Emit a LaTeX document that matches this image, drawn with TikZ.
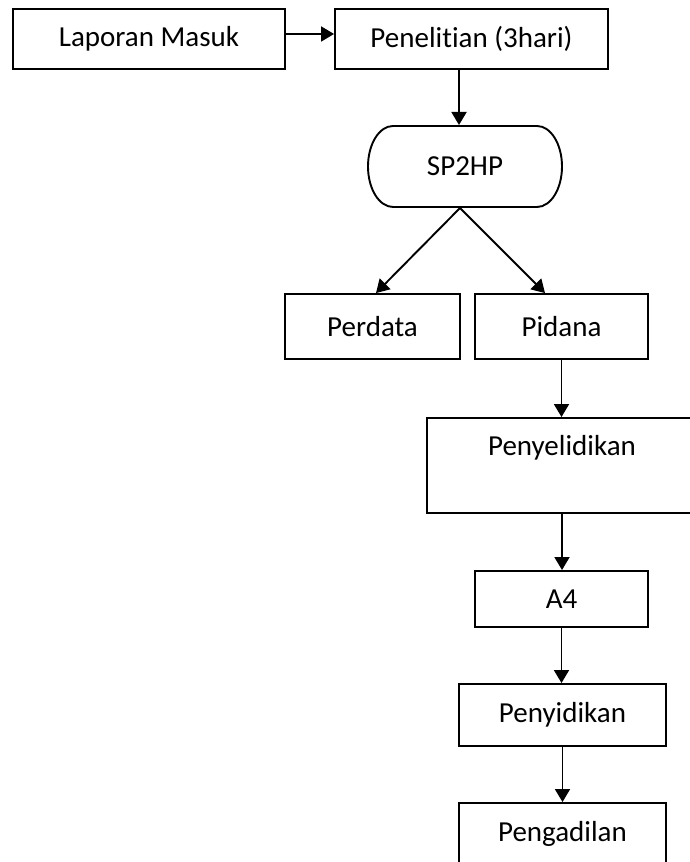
\documentclass[tikz,border=0pt]{standalone}
\usepackage{fontspec}
\setmainfont{Carlito}[Ligatures={NoCommon,NoContextual},RawFeature={-liga;-clig;-dlig}]
\usetikzlibrary{arrows.meta}
\begin{document}
\begin{tikzpicture}[x=1pt,y=1pt,
  box/.style={draw=black, line width=1.9pt, rectangle, inner sep=0pt, font=\fontsize{29}{35}\selectfont},
  conn/.style={line width=1.9pt, -{Triangle[length=13pt,width=15pt]}},
  outline/.style={line width=1.9pt, line join=round},
]
\useasboundingbox (0,0) rectangle (690,862);
\clip (0,0) rectangle (690,862);
\node[box, minimum width=272pt, minimum height=60pt] (lap) at (149,823) {Laporan Masuk};
\node[box, minimum width=273pt, minimum height=60pt] (pen) at (471.5,823) {Penelit\kern0pt ian (3hari)};
\node[box, draw=none, outer sep=0pt, minimum width=194pt, minimum height=81pt] (sp) at (465,695.5) {SP2HP};
\draw[outline] ([xshift=25pt]sp.north west) -- ([xshift=-25pt]sp.north east)
  arc[start angle=90,end angle=-90,x radius=25pt,y radius=40.5pt]
  -- ([xshift=25pt]sp.south west)
  arc[start angle=270,end angle=90,x radius=25pt,y radius=40.5pt] -- cycle;
\node[box, minimum width=175pt, minimum height=65pt] (per) at (372.5,535.5) {Perdata};
\node[box, minimum width=173pt, minimum height=65pt] (pid) at (561.5,535.5) {Pidana};
\node[box, minimum width=270pt, minimum height=95pt, text height=20pt, text depth=39pt] (pyl) at (562,396.5) {Penyelidikan};
\node[box, minimum width=173pt, minimum height=56pt] (a4) at (561.5,263) {A4};
\node[box, minimum width=207pt, minimum height=62pt] (pyd) at (562.5,147) {Penyidikan};
\node[box, minimum width=207pt, minimum height=62pt] (pgd) at (562.5,28) {Pengadilan};

\draw[conn] ([yshift=5pt]lap.east) -- ([yshift=5pt]pen.west);
\draw[conn] ([xshift=-12.5pt]pen.south) -- ([xshift=-6pt,yshift=1pt]sp.north);
\draw[conn] ([xshift=-5pt,yshift=-1pt]sp.south) -- ([xshift=3.5pt]per.north);
\draw[conn] ([xshift=-5pt,yshift=-1pt]sp.south) -- ([xshift=-16.5pt]pid.north);
\draw[conn] (pid.south) -- (pid.south |- pyl.north);
\draw[conn] (pyl.south) -- (pyl.south |- a4.north);
\draw[conn] (a4.south) -- (a4.south |- pyd.north);
\draw[conn] (pyd.south) -- (pgd.north);
\end{tikzpicture}
\end{document}
